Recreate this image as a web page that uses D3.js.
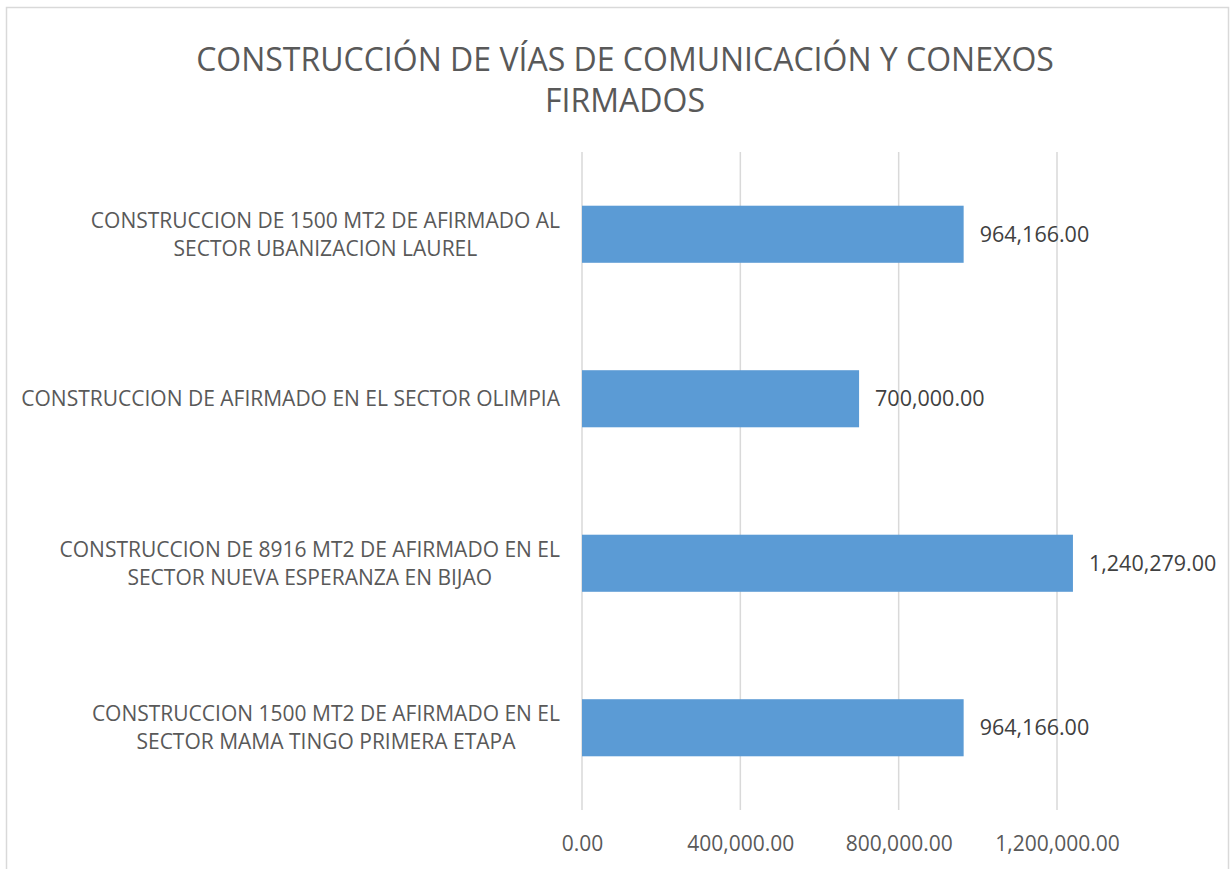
<!DOCTYPE html>
<html>
<head>
<meta charset="utf-8">
<script src="https://cdn.jsdelivr.net/npm/d3@7"></script>
<style>
  body { margin: 0; background: #fff; }
  text { font-family: "Open Sans", "Noto Sans", sans-serif; }
</style>
</head>
<body>
<script>
var categories = [
  ["CONSTRUCCION DE 1500 MT2 DE AFIRMADO AL", "SECTOR UBANIZACION LAUREL"],
  ["CONSTRUCCION DE AFIRMADO EN EL SECTOR OLIMPIA"],
  ["CONSTRUCCION DE 8916 MT2 DE AFIRMADO EN EL", "SECTOR NUEVA ESPERANZA EN BIJAO"],
  ["CONSTRUCCION 1500 MT2 DE AFIRMADO EN EL", "SECTOR MAMA TINGO PRIMERA ETAPA"]
];
var values = [964166, 700000, 1240279, 964166];
var tickValues = [0, 400000, 800000, 1200000];
var titleLines = ["CONSTRUCCIÓN DE VÍAS DE COMUNICACIÓN Y CONEXOS", "FIRMADOS"];

var w = 1232, h = 869;
var plotLeft = 582, plotTop = 152, plotBottom = 810;
var labelRight = 560;

var fmt = d3.format(",.2f");

var svg = d3.select("body").append("svg")
  .attr("width", w)
  .attr("height", h);

// chart border
svg.append("rect")
  .attr("x", 6.5).attr("y", 7.5)
  .attr("width", 1222).attr("height", 880)
  .attr("fill", "#fff")
  .attr("stroke", "#d9d9d9")
  .attr("stroke-width", 1.5);

var xScale = d3.scaleLinear()
  .domain([0, 1400000])
  .range([plotLeft, plotLeft + 475 / 1200000 * 1400000]);

var ids = d3.range(categories.length);
var yScale = d3.scaleBand()
  .domain(ids)
  .range([plotTop, plotBottom])
  .paddingInner(0.653)
  .paddingOuter(0.3265);

// title
svg.append("text")
  .attr("x", 625).attr("y", 71)
  .attr("text-anchor", "middle")
  .attr("fill", "#595959")
  .style("font-size", "32px")
  .selectAll("tspan")
  .data(titleLines)
  .enter().append("tspan")
  .attr("x", 625)
  .attr("dy", function(d, i) { return i == 0 ? 0 : 41; })
  .text(function(d) { return d; });

// gridlines
svg.append("g")
  .selectAll("line")
  .data(tickValues)
  .enter().append("line")
  .attr("x1", function(d) { return xScale(d); })
  .attr("x2", function(d) { return xScale(d); })
  .attr("y1", plotTop).attr("y2", plotBottom)
  .attr("stroke", "#d9d9d9")
  .attr("stroke-width", 1.5);

// x axis labels
var xAxis = d3.axisBottom(xScale)
  .tickValues(tickValues)
  .tickSize(0)
  .tickPadding(26)
  .tickFormat(fmt);
var gx = svg.append("g")
  .attr("transform", "translate(0," + plotBottom + ")")
  .call(xAxis);
gx.select(".domain").remove();
gx.selectAll("text")
  .attr("fill", "#595959")
  .style("font-size", "21px")
  .style("font-family", "'Open Sans', sans-serif");

// bars
svg.append("g")
  .selectAll("rect")
  .data(values)
  .enter().append("rect")
  .attr("x", xScale(0))
  .attr("y", function(d, i) { return yScale(i); })
  .attr("width", function(d) { return xScale(d) - xScale(0); })
  .attr("height", yScale.bandwidth())
  .attr("fill", "#5b9bd5");

// data labels
svg.append("g")
  .selectAll("text")
  .data(values)
  .enter().append("text")
  .attr("x", function(d) { return xScale(d) + 16; })
  .attr("y", function(d, i) { return yScale(i) + yScale.bandwidth() / 2; })
  .attr("dy", "0.35em")
  .attr("fill", "#404040")
  .style("font-size", "21.5px")
  .text(function(d) { return fmt(d); });

// category labels: block right-aligned, lines centred inside block
var lineH = 28;
categories.forEach(function(lines, i) {
  var g = svg.append("g");
  var cy = yScale(i) + yScale.bandwidth() / 2;
  var texts = g.selectAll("text")
    .data(lines)
    .enter().append("text")
    .attr("text-anchor", "middle")
    .attr("fill", "#595959")
    .style("font-size", "21px")
    .attr("y", function(d, j) { return cy + (j - (lines.length - 1) / 2) * lineH; })
    .attr("dy", "0.35em")
    .text(function(d) { return d; });
  var maxW = d3.max(texts.nodes(), function(n) { return n.getComputedTextLength(); });
  texts.attr("x", labelRight - maxW / 2);
});
</script>
</body>
</html>
